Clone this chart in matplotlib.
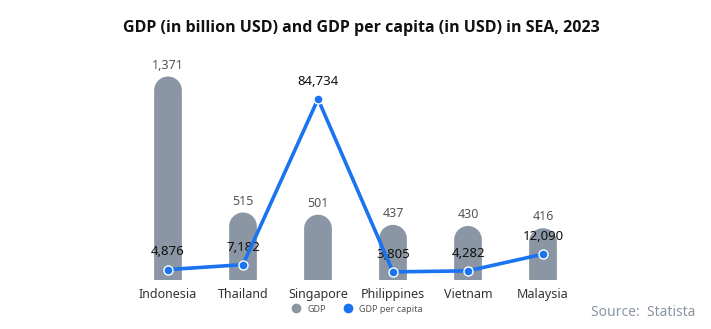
import numpy as np
import matplotlib.pyplot as plt
import matplotlib.patches as mpatches
from matplotlib.lines import Line2D

plt.rcParams['font.family'] = ['Noto Sans', 'DejaVu Sans']

countries = ["Indonesia", "Thailand", "Singapore", "Philippines", "Vietnam", "Malaysia"]
gdp = [1371, 515, 501, 437, 430, 416]
gdp_per_capita = [4876, 7182, 84734, 3805, 4282, 12090]

bar_color = "#8a96a3"
line_color = "#1a73f0"
base = 90

fig = plt.figure(figsize=(7.11, 3.29), dpi=100)
ax = fig.add_axes([130.5 / 711, 49 / 329, 450 / 711, 220 / 329])
ax2 = ax.twinx()

x = list(range(len(countries)))
ax.set_xlim(-0.5, len(countries) - 0.5)
ax.set_ylim(base, 1475)
ax2.set_ylim(0, 103000)

# bars with a rounded (semicircular) top, built as one polygon per bar
bar_w = 0.37
bars = ax.bar(x, [g - base for g in gdp], bottom=base, width=bar_w, alpha=0)
x_per_px = 6 / 450
y_per_px = (1475 - base) / 220
aspect = y_per_px / x_per_px
theta = np.linspace(0, np.pi, 40)
for b, g in zip(bars, gdp):
    x0 = b.get_x()
    w = b.get_width()
    r = w / 2
    ry = r * aspect
    cx = x0 + r
    xs = np.concatenate([[x0, x0 + w], cx + r * np.cos(theta)])
    ys = np.concatenate([[base, base], (g - ry) + ry * np.sin(theta)])
    ax.add_patch(mpatches.Polygon(np.column_stack([xs, ys]), closed=True,
                                  facecolor=bar_color, edgecolor="none", zorder=2))
    ax.text(cx, g + 30, f"{g:,}", ha="center", va="bottom",
            fontsize=9, color="#555555")

ax2.plot(x, gdp_per_capita, color=line_color, lw=2.6, marker="o", markersize=6.5,
         markerfacecolor=line_color, markeredgecolor="white", markeredgewidth=1, zorder=5)
for xi, v in zip(x, gdp_per_capita):
    ax2.text(xi, v + 5200, f"{v:,}", ha="center", va="bottom", fontsize=9.5, color="#111111")

ax.set_xticks(x)
ax.set_xticklabels(countries, fontsize=9, color="#333333")
ax.tick_params(axis="x", length=0, pad=6)
ax.set_yticks([])
ax2.set_yticks([])
for a in (ax, ax2):
    for s in a.spines.values():
        s.set_visible(False)
ax2.set_zorder(ax.get_zorder() + 1)
ax2.patch.set_visible(False)

fig.text(361 / 711, 0.915, "GDP (in billion USD) and GDP per capita (in USD) in SEA, 2023",
         ha="center", va="center", fontsize=11.5, fontweight="bold", color="#111111",
         family=["Open Sans", "DejaVu Sans"])

handles = [
    Line2D([], [], marker="o", ls="none", color=bar_color, markersize=6),
    Line2D([], [], marker="o", ls="none", color=line_color, markersize=6),
]
fig.legend(handles, ["GDP", "GDP per capita"], loc="center", bbox_to_anchor=(355 / 711, 1 - 309 / 329),
           ncol=2, frameon=False, fontsize=6.5, handletextpad=0.2, columnspacing=1.5,
           labelcolor="#555555")

fig.text(695 / 711, 1 - 313 / 329, "Source:  Statista", ha="right", va="center",
         fontsize=10, color="#8a96a3")

fig.savefig("out.png", dpi=100)
